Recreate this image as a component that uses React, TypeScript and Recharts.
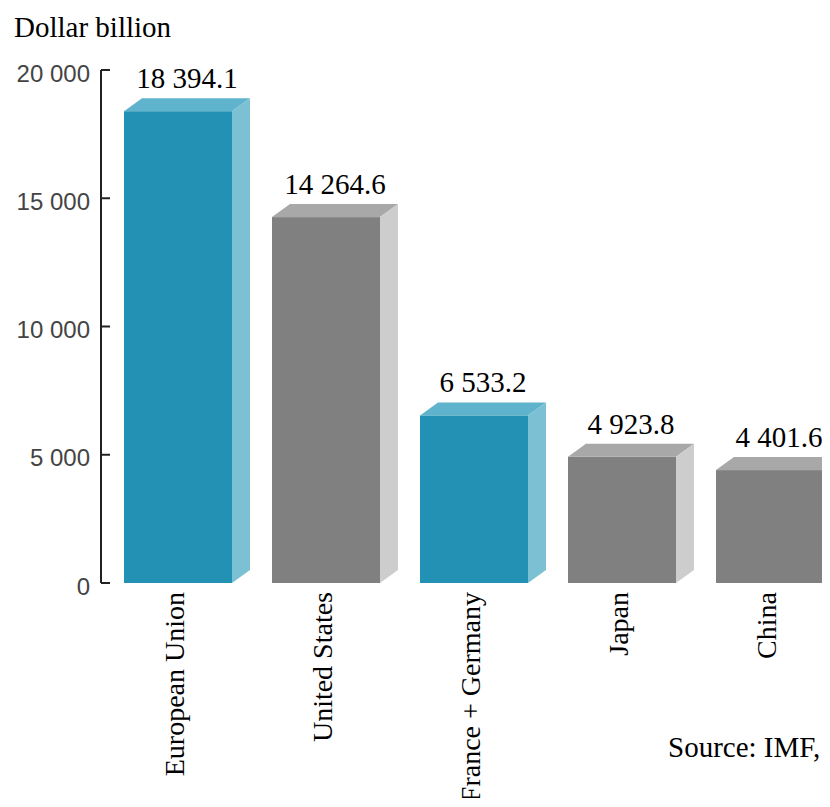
import React from "react";
import { BarChart, Bar, XAxis, YAxis, LabelList } from "recharts";

const categories = ["European Union", "United States", "France + Germany", "Japan", "China"];
const gdp = [18394.1, 14264.6, 6533.2, 4923.8, 4401.6];
const groups = ["eu", "other", "eu", "other", "other"];
const yTicks = [0, 5000, 10000, 15000, 20000];

const palette: Record<string, { front: string; top: string; side: string }> = {
  eu: { front: "#2291b4", top: "#60b3cc", side: "#7cc0d3" },
  other: { front: "#808080", top: "#a8a8a8", side: "#cdcdcd" },
};

const DX = 18;
const DY = 13;
const SERIF = '"Liberation Serif", "Times New Roman", serif';
const SANS = '"Liberation Sans", Arial, sans-serif';

const data = categories.map((name, i) => ({ name, value: gdp[i], group: groups[i] }));

function fmt(v: number, decimals: number) {
  const [i, d] = v.toFixed(decimals).split(".");
  const s = i.replace(/\B(?=(\d{3})+(?!\d))/g, " ");
  return d ? `${s}.${d}` : s;
}

const Box3D = (props: any) => {
  const { x, y, width, height, payload } = props;
  const c = palette[payload.group];
  const r = x + width;
  const b = y + height;
  return (
    <g>
      <rect x={x} y={y} width={width} height={height} fill={c.front} />
      <polygon
        points={`${x},${y} ${x + DX},${y - DY} ${r + DX},${y - DY} ${r},${y}`}
        fill={c.top}
      />
      <polygon
        points={`${r},${y} ${r + DX},${y - DY} ${r + DX},${b - DY} ${r},${b}`}
        fill={c.side}
      />
    </g>
  );
};

const ValueLabel = (props: any) => {
  const { x, y, width, value } = props;
  return (
    <text
      x={x + width / 2 + 9}
      y={y - DY - 10}
      textAnchor="middle"
      fontFamily={SERIF}
      fontSize={29}
      fill="#000"
    >
      {fmt(value, 1)}
    </text>
  );
};

const YTick = (props: any) => {
  const { x, y, payload } = props;
  return (
    <g>
      <line x1={x} y1={y} x2={x + 9} y2={y} stroke="#222" strokeWidth={2} />
      <text
        x={x - 11}
        y={y + 3}
        textAnchor="end"
        dominantBaseline="central"
        fontFamily={SANS}
        fontSize={24}
        fill="#444"
      >
        {fmt(payload.value, 0)}
      </text>
    </g>
  );
};

const XTick = (props: any) => {
  const { x, y, payload } = props;
  return (
    <text
      transform={`translate(${x - 4},${y + 9}) rotate(-90)`}
      textAnchor="end"
      dominantBaseline="central"
      fontFamily={SERIF}
      fontSize={28}
      fill="#000"
    >
      {payload.value}
    </text>
  );
};

export default function App() {
  return (
    <div style={{ position: "relative", width: 822, height: 799, overflow: "hidden", background: "#fff" }}>
      <div
        style={{
          position: "absolute",
          left: 6,
          top: 5,
          fontFamily: SERIF,
          fontSize: 29,
          lineHeight: "29px",
          whiteSpace: "nowrap",
        }}
      >
        Dollar billion
      </div>
      <div
        style={{
          position: "absolute",
          left: 660,
          top: 725,
          fontFamily: SERIF,
          fontSize: 29,
          lineHeight: "29px",
          whiteSpace: "nowrap",
        }}
      >
        Source: IMF,
      </div>
      <BarChart
        width={836}
        height={790}
        data={data}
        margin={{ top: 62, right: 0, bottom: 15, left: 0 }}
        barSize={108}
      >
        <XAxis
          dataKey="name"
          axisLine={false}
          tickLine={false}
          tickSize={0}
          tickMargin={0}
          height={200}
          padding={{ left: 3, right: 0 }}
          tick={<XTick />}
          interval={0}
        />
        <YAxis
          domain={[0, 20000]}
          ticks={yTicks}
          width={93}
          axisLine={{ stroke: "#222", strokeWidth: 2 }}
          tickLine={false}
          tickSize={0}
          tickMargin={0}
          tick={<YTick />}
          interval={0}
        />
        <Bar dataKey="value" shape={<Box3D />} isAnimationActive={false}>
          <LabelList dataKey="value" content={<ValueLabel />} />
        </Bar>
      </BarChart>
    </div>
  );
}
